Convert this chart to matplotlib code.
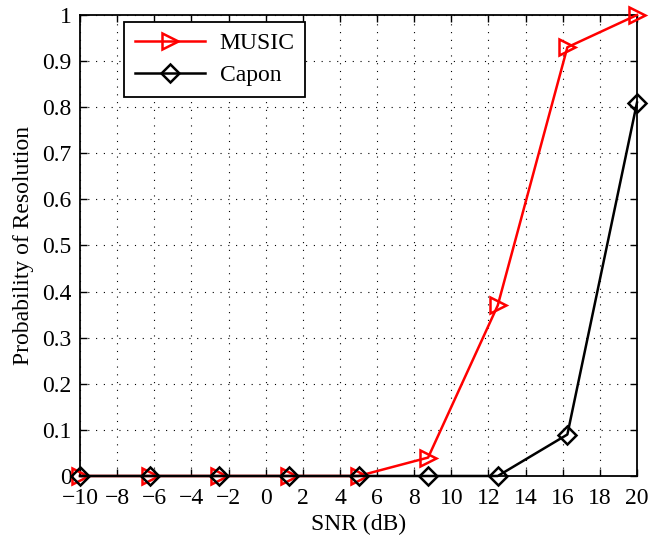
import matplotlib
matplotlib.use("Agg")
import matplotlib.pyplot as plt

plt.rcParams['font.family'] = ['Liberation Serif', 'DejaVu Serif']
plt.rcParams['mathtext.fontset'] = 'stix'

snr = [-10, -6.25, -2.5, 1.25, 5, 8.75, 12.5, 16.25, 20]
music = [0, 0, 0, 0, 0, 0.04, 0.37, 0.93, 1.0]
capon = [0, 0, 0, 0, 0, 0, 0, 0.09, 0.81]
xticks = list(range(-10, 21, 2))
yticks = [round(0.1 * i, 1) for i in range(11)]

fig = plt.figure(figsize=(6.49, 5.39), dpi=100)
ax = fig.add_axes([0.1233, 0.1169, 0.8582, 0.8553])

ax.plot(snr, music, color='red', lw=1.8, marker='>', ms=11, mfc='none', mew=1.8, label='MUSIC', clip_on=False, zorder=3)
ax.plot(snr, capon, color='black', lw=1.8, marker='D', ms=9, mfc='none', mew=1.8, label='Capon', clip_on=False, zorder=4)

ax.set_xlim(-10, 20)
ax.set_ylim(0, 1)
ax.set_xticks(xticks)
ax.set_xticklabels([str(t).replace('-', '\u2212') for t in xticks])
ax.set_yticks(yticks)
ax.set_yticklabels(['0' if t == 0 else ('1' if t == 1 else f'{t:.1f}') for t in yticks])
ax.tick_params(direction='in', top=True, right=True, labelsize=17, length=5, width=1)
ax.tick_params(axis='x', pad=9)
ax.tick_params(axis='y', pad=6)
ax.grid(True, color='black', linestyle=(0, (1, 6)), linewidth=0.8)
for s in ax.spines.values():
    s.set_linewidth(1.3)

ax.set_xlabel('SNR (dB)', fontsize=17, labelpad=3)
ax.set_ylabel('Probability of Resolution', fontsize=17, labelpad=6)

leg = ax.legend(loc='upper left', bbox_to_anchor=(0.079, 0.985), borderaxespad=0, fontsize=17,
                frameon=True, fancybox=False, edgecolor='black', framealpha=1, handlelength=3.0,
                borderpad=0.45, labelspacing=0.45, handletextpad=0.6)
leg.get_frame().set_linewidth(1.3)

fig.savefig('out.png', dpi=100)
